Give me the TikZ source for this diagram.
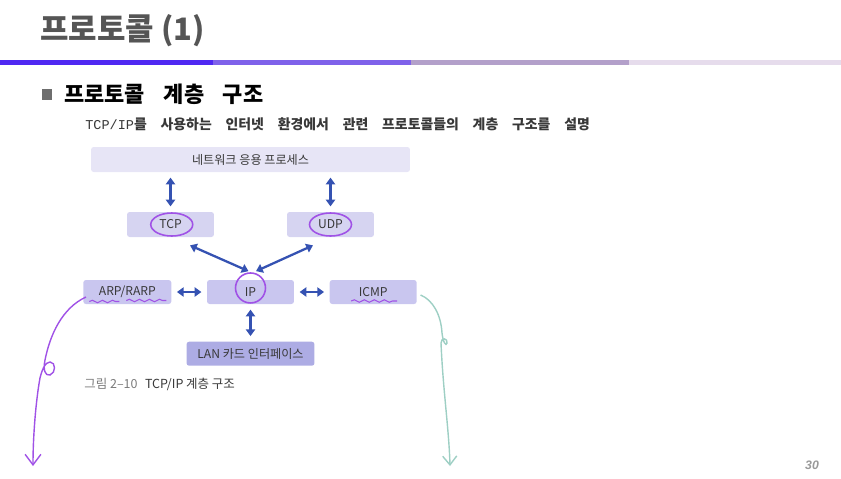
\documentclass[tikz,border=0pt]{standalone}
\usepackage{fontspec}
\usetikzlibrary{arrows.meta, positioning, shapes.geometric, decorations.pathmorphing}
\newfontfamily\kr{Noto Sans CJK KR}
\newfontfamily\numfont{Liberation Sans}
\setmonofont{Liberation Mono}
\definecolor{titlegray}{HTML}{555555}
\definecolor{bulletgray}{HTML}{6E6E6E}
\definecolor{barA}{HTML}{4F28F2}
\definecolor{barB}{HTML}{7F62EA}
\definecolor{barC}{HTML}{B3A0CA}
\definecolor{barD}{HTML}{E6DCEC}
\definecolor{appfill}{HTML}{E7E5F6}
\definecolor{tfill}{HTML}{D6D4F1}
\definecolor{ipfill}{HTML}{C9C6EF}
\definecolor{lanfill}{HTML}{ADACE4}
\definecolor{linkblue}{HTML}{3552B2}
\definecolor{ringpurple}{HTML}{A052E6}
\definecolor{noteteal}{HTML}{9ECFC4}
\definecolor{ink}{HTML}{383838}
\definecolor{capgray}{HTML}{7A7A7A}

\begin{document}
\begin{tikzpicture}[
  x=0.02cm, y=-0.02cm,
  node distance=0.7cm,
  layer/.style={rectangle, rounded corners=1.5pt, inner sep=0pt, minimum width=1.74cm, minimum height=0.5cm, text=ink, font=\kr\fontsize{6.9}{8}\selectfont},
  link/.style={{Triangle[length=3.8pt,width=5.2pt]}-{Triangle[length=3.8pt,width=5.2pt]}, line width=1.3pt, draw=linkblue, shorten >=3pt, shorten <=3pt},
  ring/.style={draw=ringpurple, line width=0.9pt},
  squiggle/.style={draw=ringpurple, line width=0.6pt, decorate, decoration={snake, amplitude=0.7pt, segment length=0.2cm}},
  note/.style={line width=0.8pt, -{Straight Barb[length=6pt,width=9pt]}}
]
  \useasboundingbox (0,0) rectangle (841,478);

  \node[anchor=west, inner sep=0pt, text=titlegray, font=\kr\bfseries\fontsize{17.6}{20}\selectfont] (title) at (40,31) {프로토콜 (1)};
  \fill[barA] (0,60) rectangle (213,65);
  \fill[barB] (213,60) rectangle (411,65);
  \fill[barC] (411,60) rectangle (629,65);
  \fill[barD] (629,60) rectangle (841,65);

  \node[fill=bulletgray, inner sep=0pt, minimum size=0.22cm] (bullet) at (47,94) {};
  \node[anchor=west, inner sep=0pt, font={\kr\bfseries\fontsize{12.5}{14}\selectfont\spaceskip=0.85em\relax}] (heading) at (64,94) {프로토콜 계층 구조};
  \node[anchor=west, inner sep=0pt, text=ink, font={\kr\bfseries\fontsize{7.9}{9}\selectfont\spaceskip=1em\relax}] (lead) at (85,124) {{\ttfamily\mdseries\fontsize{7.7}{9}\selectfont TCP/IP}를 사용하는 인터넷 환경에서 관련 프로토콜들의 계층 구조를 설명};

  \node[layer, fill=appfill, minimum width=6.38cm] (app) at (250.5,159.5) {네트워크 응용 프로세스};
  \node[layer, fill=tfill] (tcp) at (170.5,224.5) {TCP};
  \node[layer, fill=tfill] (udp) at (330.5,224.5) {UDP};
  \node[layer, fill=ipfill, minimum height=0.48cm] (ip) at (250.5,292) {IP};
  \node[layer, fill=ipfill, minimum height=0.48cm, minimum width=1.76cm, left=of ip] (arp) {ARP/RARP};
  \node[layer, fill=ipfill, minimum height=0.48cm, right=of ip] (icmp) {ICMP};
  \node[layer, fill=lanfill, minimum height=0.48cm, minimum width=2.56cm, below=0.74cm of ip] (lan) {LAN 카드 인터페이스};

  \draw[link] (tcp.north) -- (tcp.north |- app.south);
  \draw[link] (udp.north) -- (udp.north |- app.south);
  \draw[link, shorten >=0pt, shorten <=0pt] ([shift={(19.5,8)}]tcp.south) -- ([shift={(-2,-8.5)}]ip.north);
  \draw[link, shorten >=0pt, shorten <=0pt] ([shift={(-17.5,8)}]udp.south) -- ([shift={(5.5,-8.5)}]ip.north);
  \draw[link] (arp) -- (ip);
  \draw[link] (ip) -- (icmp);
  \draw[link] (ip) -- (lan);

  \draw[ring] ([xshift=0.7pt]tcp.center) ellipse [x radius=0.42cm, y radius=0.23cm];
  \draw[ring] (udp.center) ellipse [x radius=0.42cm, y radius=0.23cm];
  \draw[ring] ([yshift=2.3pt]ip.center) circle [radius=0.3cm];
  \draw[squiggle] ([shift={(-38,9.5)}]arp.center) -- ([shift={(-8,9.5)}]arp.center);
  \draw[squiggle] ([shift={(-1,8.5)}]arp.center) -- ([shift={(39,8.5)}]arp.center);
  \draw[squiggle] ([shift={(-22,9)}]icmp.center) -- ([shift={(24,9)}]icmp.center);

  \node[anchor=west, inner sep=0pt, font=\kr\fontsize{7.1}{8}\selectfont] (caption) at (84,384) {\textcolor{capgray}{그림 2–10}\hspace{0.6em}\textcolor{ink}{TCP/IP 계층 구조}};

  \coordinate (arpend) at (33,466);
  \coordinate (icmpend) at (450,466);
  \draw[note, ringpurple] ([shift={(3,5)}]arp.west) .. controls (62,308) and (50,335) .. (45,360) .. controls (43,370) and (45,376) .. (50,375) .. controls (56,373) and (56,362) .. (50,362) .. controls (45,362) and (42,370) .. (40,378) .. controls (36,400) and (33,435) .. (arpend);
  \draw[note, noteteal, -{Straight Barb[length=5pt,width=8pt]}] ([shift={(3.5,3)}]icmp.east) .. controls (433,300) and (441,315) .. (442,333) .. controls (443,342) and (446,347) .. (447,343) .. controls (448,338) and (441,337) .. (441,343) .. controls (443,390) and (449,430) .. (icmpend);

  \node[text=gray!80, font=\numfont\bfseries\itshape\fontsize{7}{8}\selectfont] (page) at (812,465) {30};
\end{tikzpicture}
\end{document}
